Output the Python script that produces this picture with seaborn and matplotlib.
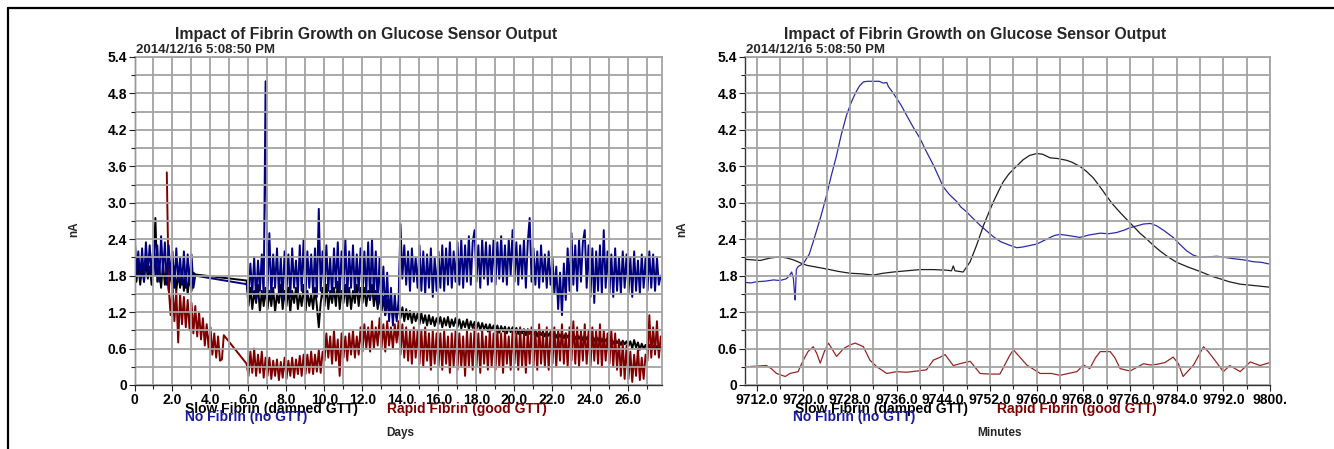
import numpy as np
import pandas as pd
import matplotlib
matplotlib.use("Agg")
import matplotlib.pyplot as plt
from matplotlib.lines import Line2D
from matplotlib.ticker import MultipleLocator, FixedLocator, FixedFormatter
import seaborn as sns

# ---------------- text ----------------
TITLE = "Impact of Fibrin Growth on Glucose Sensor Output"
STAMP = "2014/12/16 5:08:50 PM"
S_NO = "No Fibrin (no GTT)"
S_SLOW = "Slow Fibrin (damped GTT)"
S_RAPID = "Rapid Fibrin (good GTT)"
COLORS = {S_NO: "#000080", S_SLOW: "#000000", S_RAPID: "#800000"}
COLORS_R = {S_NO: "#2b2ba8", S_SLOW: "#1e1e1e", S_RAPID: "#982525"}

# ---------------- left panel: days ----------------
blue_days_a = np.round(np.arange(0.0, 3.25, 0.1), 1)
blue_vals_a = [2.55, 1.80, 2.20, 1.75, 2.25, 1.70, 2.35, 1.85, 2.30, 1.75,
               2.40, 1.80, 2.30, 1.70, 2.45, 1.85, 2.35, 1.65, 2.30, 1.75,
               2.20, 1.60, 2.25, 1.70, 2.10, 1.65, 2.20, 1.60, 2.15, 1.65,
               2.15, 1.60, 1.80]
blue_days_b = np.round(np.arange(5.9, 27.75, 0.1), 1)
blue_vals_b = [1.66,
    1.45, 2.00, 1.50, 2.10, 1.40, 2.05, 1.55, 2.15, 1.45, 5.00,
    1.55, 2.50, 1.45, 2.15, 1.60, 2.25, 1.50, 2.10, 1.40, 2.20,
    1.55, 2.15, 1.45, 2.25, 1.60, 2.05, 1.50, 2.30, 1.55, 2.40,
    1.45, 2.20, 1.60, 2.15, 1.50, 2.25, 1.45, 2.90, 1.55, 2.20,
    1.50, 2.30, 1.55, 2.10, 1.45, 2.25, 1.60, 2.35, 1.50, 2.20,
    1.55, 2.40, 1.45, 2.20, 1.60, 2.30, 1.50, 2.15, 1.55, 2.25,
    1.45, 2.20, 1.50, 2.35, 1.40, 2.40, 1.45, 2.20, 1.30, 2.10,
    1.30, 1.95, 1.15, 1.85, 1.05, 1.60, 0.98, 1.50, 1.05, 1.40,
    2.65, 1.75, 2.30, 1.65, 2.20, 1.55, 2.25, 1.70, 2.10, 1.60,
    2.30, 1.55, 2.20, 1.50, 2.15, 1.60, 2.25, 1.45, 2.10, 1.55,
    2.20, 1.60, 2.30, 1.55, 2.25, 1.65, 2.35, 1.60, 2.20, 1.70,
    2.35, 1.65, 2.40, 1.60, 2.30, 1.70, 2.45, 1.65, 2.35, 2.55,
    1.70, 2.30, 1.60, 2.40, 1.75, 2.35, 1.65, 2.30, 1.70, 2.40,
    1.65, 2.35, 1.75, 2.45, 1.70, 2.30, 1.65, 2.40, 1.80, 2.55,
    1.70, 2.35, 1.65, 2.30, 1.75, 2.40, 1.60, 2.35, 2.75, 1.70,
    2.25, 1.65, 2.20, 1.60, 2.30, 1.70, 2.15, 1.60, 2.20, 1.65,
    2.10, 1.50, 1.95, 1.25, 1.85, 1.15, 2.00, 1.40, 2.25, 1.55,
    2.50, 1.65, 2.30, 1.55, 2.40, 1.70, 2.35, 2.55, 1.60, 2.30,
    1.45, 2.25, 1.35, 2.20, 1.55, 2.30, 1.50, 2.55, 1.60, 2.20,
    1.50, 2.15, 1.45, 2.25, 1.55, 2.10, 1.50, 2.20, 1.60, 2.15,
    1.50, 2.10, 1.45, 2.20, 1.55, 2.05, 1.50, 2.15, 1.60, 2.10,
    1.55, 2.20, 1.60, 2.15, 1.55, 2.10, 1.65, 1.80]

black_days_a = np.round(np.arange(0.0, 3.25, 0.1), 1)
black_vals_a = [2.05, 1.70, 2.00, 1.65, 1.95, 1.70, 2.05, 1.75, 1.95, 1.65,
                2.00, 2.75, 1.70, 1.95, 1.60, 2.00, 1.65, 1.95, 1.55, 1.90,
                1.60, 1.95, 1.55, 1.85, 1.60, 1.90, 1.55, 1.85, 1.50, 1.80,
                1.55, 1.85, 1.82]
black_days_b = np.round(np.arange(5.9, 27.75, 0.1), 1)
black_vals_b = [1.72,
    1.30, 1.60, 1.25, 1.55, 1.35, 1.65, 1.20, 1.55, 1.30, 1.60,
    1.25, 1.55, 1.30, 1.60, 1.20, 1.50, 1.35, 1.65, 1.25, 1.55,
    1.30, 1.60, 1.20, 1.55, 1.35, 1.60, 1.25, 1.50, 1.30, 1.65,
    1.20, 1.55, 1.30, 1.50, 1.25, 1.60, 1.30, 0.95, 1.35, 1.60,
    1.30, 1.65, 1.25, 1.55, 1.35, 1.60, 1.30, 1.70, 1.25, 1.55,
    1.35, 1.65, 1.30, 1.60, 1.25, 1.55, 1.35, 1.65, 1.30, 1.60,
    1.35, 1.60, 1.30, 1.55, 1.40, 1.65, 1.30, 1.55, 1.25, 1.50,
    1.20, 1.45, 1.15, 1.40, 1.15, 1.35, 1.10, 1.30, 1.10, 1.30,
    1.10, 1.28, 1.05, 1.25, 1.08, 1.22, 1.02, 1.20, 1.05, 1.18,
    1.00, 1.18, 1.02, 1.15, 0.98, 1.15, 1.00, 1.12, 0.97, 1.10,
    1.00, 1.12, 0.95, 1.10, 0.98, 1.12, 0.95, 1.08, 0.97, 1.10,
    0.95, 1.08, 0.93, 1.05, 0.95, 1.08, 0.92, 1.05, 0.94, 1.04,
    0.92, 1.03, 0.90, 1.02, 0.92, 1.00, 0.88, 1.00, 0.90, 0.98,
    0.88, 0.98, 0.86, 0.97, 0.88, 0.96, 0.85, 0.95, 0.87, 0.95,
    0.85, 0.94, 0.84, 0.93, 0.85, 0.92, 0.82, 0.92, 0.84, 0.90,
    0.82, 0.90, 0.80, 0.90, 0.82, 0.88, 0.80, 0.88, 0.81, 0.87,
    0.80, 0.87, 0.78, 0.86, 0.79, 0.85, 0.77, 0.85, 0.78, 0.84,
    0.76, 0.84, 0.75, 0.83, 0.76, 0.82, 0.74, 0.82, 0.75, 0.81,
    0.73, 0.80, 0.72, 0.80, 0.73, 0.79, 0.71, 0.78, 0.72, 0.77,
    0.70, 0.76, 0.68, 0.75, 0.69, 0.74, 0.66, 0.73, 0.67, 0.72,
    0.64, 0.72, 0.60, 0.74, 0.62, 0.70, 0.58, 0.68, 0.60, 0.66,
    0.58, 0.66, 0.57, 0.65, 0.59, 0.64, 0.56, 0.62]

red_days_a = np.round(np.arange(1.7, 4.75, 0.1), 1)
red_vals_a = [3.50, 1.60, 1.15, 1.65, 1.05, 1.55, 0.70, 1.50, 1.00, 1.45,
              0.95, 1.40, 0.90, 1.35, 0.85, 1.30, 0.80, 1.20, 0.75, 1.10,
              0.65, 1.00, 0.60, 0.95, 0.50, 0.85, 0.45, 0.80, 0.40, 0.42,
              0.82]
red_days_b = np.round(np.arange(5.9, 27.75, 0.1), 1)
red_vals_b = [0.35,
    0.15, 0.55, 0.20, 0.60, 0.15, 0.50, 0.20, 0.55, 0.12, 0.45,
    0.15, 0.45, 0.10, 0.40, 0.15, 0.42, 0.08, 0.38, 0.12, 0.45,
    0.10, 0.40, 0.15, 0.45, 0.12, 0.42, 0.18, 0.48, 0.15, 0.50,
    0.18, 0.50, 0.20, 0.55, 0.18, 0.50, 0.22, 0.58, 0.20, 0.55,
    0.40, 0.85, 0.45, 0.80, 0.35, 0.90, 0.40, 0.75, 0.15, 0.85,
    0.45, 0.80, 0.40, 0.85, 0.50, 0.90, 0.45, 0.80, 0.50, 0.95,
    0.55, 1.00, 0.60, 0.95, 0.55, 1.05, 0.60, 0.95, 0.65, 1.10,
    0.60, 1.00, 0.55, 1.05, 0.65, 0.95, 0.60, 1.00, 0.70, 1.05,
    0.50, 1.00, 0.45, 0.95, 0.40, 0.90, 0.35, 0.95, 0.45, 0.90,
    0.35, 0.90, 0.30, 0.95, 0.40, 0.85, 0.25, 0.90, 0.35, 0.85,
    0.30, 0.85, 0.25, 0.90, 0.35, 0.80, 0.20, 0.85, 0.30, 0.90,
    0.25, 0.85, 0.30, 0.80, 0.15, 0.90, 0.30, 0.85, 0.25, 0.95,
    0.30, 0.85, 0.20, 0.90, 0.35, 0.80, 0.25, 0.90, 0.30, 0.85,
    0.25, 0.90, 0.30, 0.85, 0.20, 0.90, 0.35, 0.80, 0.25, 0.90,
    0.35, 0.85, 0.25, 0.95, 0.30, 0.85, 0.20, 0.90, 0.35, 0.95,
    0.30, 0.90, 0.25, 1.00, 0.35, 0.85, 0.30, 0.95, 0.25, 0.90,
    0.35, 0.95, 0.30, 0.90, 0.40, 1.00, 0.35, 0.85, 0.30, 0.95,
    0.40, 1.05, 0.35, 0.95, 0.30, 0.90, 0.40, 1.00, 0.35, 0.90,
    0.30, 0.95, 0.40, 0.90, 0.35, 1.00, 0.30, 0.90, 0.40, 0.85,
    0.35, 0.90, 0.30, 0.85, 0.25, 0.75, 0.15, 0.70, 0.10, 0.65,
    0.10, 0.55, 0.05, 0.50, 0.15, 0.60, 0.08, 0.45, 0.10, 0.50,
    0.40, 1.15, 0.45, 0.95, 0.50, 1.05, 0.45, 0.80]

# ---------------- right panel: minutes ----------------
blue_min = [9710, 9711, 9712, 9713.5, 9714.9, 9716, 9717.1, 9717.6, 9718, 9718.3,
            9718.5, 9718.6, 9718.8, 9719.1, 9720, 9721, 9721.7, 9722.3, 9722.9, 9723.5,
            9724, 9724.8, 9725.7, 9726.5, 9727.4, 9728.2, 9728.9, 9729.6, 9730.3, 9731,
            9732, 9733, 9733.7, 9734.3, 9734.6, 9735.3, 9736, 9736.8, 9737.7, 9738.8,
            9740, 9741, 9742.3, 9743.2, 9744, 9745, 9746.3, 9747, 9748, 9749,
            9750.3, 9751.5, 9752.6, 9753.8, 9755.4, 9756.6, 9757.5, 9759, 9760, 9761.7,
            9763, 9764, 9765.5, 9767.4, 9769, 9770.9, 9772.3, 9773.7, 9775, 9776,
            9777.2, 9778.3, 9779.5, 9780.6, 9782, 9783.4, 9784.5, 9785.7, 9786.8, 9788,
            9789.5, 9790.9, 9792.3, 9793.7, 9795.5, 9797.1, 9798.5, 9800]
blue_min_vals = [1.69, 1.68, 1.70, 1.71, 1.73, 1.72, 1.75, 1.80, 1.86, 1.75,
                 1.50, 1.40, 1.90, 1.95, 2.00, 2.15, 2.36, 2.55, 2.74, 2.95,
                 3.13, 3.45, 3.78, 4.12, 4.44, 4.65, 4.80, 4.92, 4.99, 5.00,
                 5.00, 5.00, 4.97, 4.98, 4.91, 4.82, 4.72, 4.60, 4.44, 4.25,
                 4.06, 3.86, 3.62, 3.43, 3.26, 3.14, 3.02, 2.93, 2.85, 2.75,
                 2.63, 2.53, 2.44, 2.36, 2.30, 2.26, 2.27, 2.30, 2.32, 2.40,
                 2.46, 2.48, 2.46, 2.43, 2.47, 2.50, 2.49, 2.51, 2.55, 2.59,
                 2.62, 2.65, 2.66, 2.62, 2.53, 2.43, 2.32, 2.21, 2.14, 2.10,
                 2.11, 2.12, 2.10, 2.08, 2.06, 2.03, 2.02, 1.99]
black_min = [9710, 9711.3, 9712.6, 9714.3, 9716, 9717.2, 9718.3, 9719.5, 9720.6, 9722.3,
             9724, 9726, 9728, 9730, 9732, 9733.7, 9735.4, 9737.7, 9740, 9742.3,
             9744.6, 9745.4, 9745.7, 9746, 9747.4, 9748.6, 9749.7, 9750.9, 9751.8, 9752.6,
             9753.5, 9754.3, 9755.2, 9756, 9757.7, 9758.8, 9760, 9761, 9762.3, 9763.5,
             9765.1, 9766, 9767.4, 9768.5, 9769.7, 9770.8, 9772, 9773, 9774.3, 9775.5,
             9776.6, 9777.7, 9778.9, 9780, 9781.1, 9782.5, 9784, 9786, 9788, 9790,
             9791.4, 9793, 9794.9, 9797, 9800]
black_min_vals = [2.07, 2.06, 2.05, 2.09, 2.11, 2.09, 2.06, 2.01, 1.97, 1.94,
                  1.91, 1.87, 1.84, 1.83, 1.81, 1.84, 1.86, 1.88, 1.90, 1.90,
                  1.89, 1.88, 1.96, 1.88, 1.86, 2.03, 2.30, 2.63, 2.84, 3.02,
                  3.20, 3.35, 3.47, 3.55, 3.71, 3.78, 3.81, 3.80, 3.74, 3.73,
                  3.70, 3.67, 3.60, 3.52, 3.41, 3.27, 3.11, 2.98, 2.84, 2.72,
                  2.61, 2.50, 2.40, 2.30, 2.21, 2.11, 2.02, 1.94, 1.87, 1.79,
                  1.75, 1.70, 1.66, 1.64, 1.61]
red_min = [9710, 9711.8, 9713.7, 9714.5, 9715.4, 9716.9, 9717.7, 9719.1, 9720, 9720.8,
           9721.7, 9722.3, 9722.9, 9723.6, 9724.3, 9725, 9725.7, 9726.9, 9728, 9728.9,
           9730.3, 9731.4, 9732.6, 9734.3, 9736, 9737.7, 9739.5, 9741.1, 9742.3, 9743.3,
           9744.3, 9745.7, 9747.2, 9748.6, 9750.3, 9752, 9753.7, 9755.4, 9756, 9757.2,
           9758.3, 9760.6, 9762.5, 9764, 9766.9, 9768, 9769.1, 9770.1, 9770.9, 9772.6,
           9773.4, 9774.3, 9776, 9778.3, 9779.5, 9780.6, 9782, 9783.4, 9784.3, 9785.1,
           9786.9, 9788.6, 9789.4, 9790.3, 9792, 9793.1, 9794.9, 9796.6, 9798.3, 9800]
red_min_vals = [0.30, 0.31, 0.32, 0.27, 0.19, 0.14, 0.19, 0.22, 0.41, 0.55,
                0.63, 0.52, 0.36, 0.55, 0.69, 0.58, 0.47, 0.60, 0.66, 0.69,
                0.63, 0.41, 0.30, 0.19, 0.22, 0.21, 0.23, 0.25, 0.41, 0.45,
                0.50, 0.32, 0.36, 0.39, 0.19, 0.18, 0.18, 0.49, 0.58, 0.45,
                0.33, 0.19, 0.19, 0.16, 0.22, 0.33, 0.27, 0.45, 0.55, 0.55,
                0.45, 0.27, 0.23, 0.35, 0.33, 0.34, 0.37, 0.46, 0.35, 0.14,
                0.33, 0.63, 0.55, 0.44, 0.22, 0.32, 0.22, 0.38, 0.32, 0.37]

# ---------------- axes tick definitions ----------------
y_ticks = [0, 0.6, 1.2, 1.8, 2.4, 3.0, 3.6, 4.2, 4.8, 5.4]
y_ticklabels = ["0", "0.6", "1.2", "1.8", "2.4", "3.0", "3.6", "4.2", "4.8", "5.4"]
day_ticks = [0, 2, 4, 6, 8, 10, 12, 14, 16, 18, 20, 22, 24, 26]
day_ticklabels = ["0", "2.0", "4.0", "6.0", "8.0", "10.0", "12.0", "14.0", "16.0",
                  "18.0", "20.0", "22.0", "24.0", "26.0"]
min_ticks = [9712, 9720, 9728, 9736, 9744, 9752, 9760, 9768, 9776, 9784, 9792, 9800]
min_ticklabels = ["9712.0", "9720.0", "9728.0", "9736.0", "9744.0", "9752.0", "9760.0",
                  "9768.0", "9776.0", "9784.0", "9792.0", "9800."]


def frame(parts):
    rows = []
    for name, xs, ys in parts:
        rows.append(pd.DataFrame({"x": np.asarray(xs, float), "y": np.asarray(ys, float),
                                  "series": name}))
    return pd.concat(rows, ignore_index=True)


left_df = frame([
    (S_SLOW, np.concatenate([black_days_a, black_days_b]), black_vals_a + black_vals_b),
    (S_RAPID, np.concatenate([red_days_a, red_days_b]), red_vals_a + red_vals_b),
    (S_NO, np.concatenate([blue_days_a, blue_days_b]), blue_vals_a + blue_vals_b),
])
right_df = frame([
    (S_SLOW, black_min, black_min_vals),
    (S_RAPID, red_min, red_min_vals),
    (S_NO, blue_min, blue_min_vals),
])

sns.set_style("white")
plt.rcParams["font.family"] = ["Liberation Sans", "DejaVu Sans"]

W, H = 1334, 449
fig = plt.figure(figsize=(W / 100, H / 100), dpi=100)


def fx(x):
    return x / W


def fy(y):
    return 1 - y / H


GRID = "#a3a3a3"


def make_axes(left_px, right_px, df, palette, xmin, xmax, xticks, xticklabels, xminor,
              xlabel, lw, title_x, legend_x):
    top_px, bot_px = 57, 385
    ax = fig.add_axes([fx(left_px), fy(bot_px), (right_px - left_px) / W,
                       (bot_px - top_px) / H])
    sns.lineplot(data=df, x="x", y="y", hue="series",
                 hue_order=[S_SLOW, S_RAPID, S_NO], palette=palette,
                 estimator=None, sort=False, legend=False, linewidth=lw, ax=ax)
    ax.set_xlim(xmin, xmax)
    ax.set_ylim(0, 5.4)
    ax.yaxis.set_major_locator(FixedLocator(y_ticks))
    ax.yaxis.set_major_formatter(FixedFormatter(y_ticklabels))
    ax.yaxis.set_minor_locator(MultipleLocator(0.3))
    ax.xaxis.set_major_locator(FixedLocator(xticks))
    ax.xaxis.set_major_formatter(FixedFormatter(xticklabels))
    ax.xaxis.set_minor_locator(MultipleLocator(xminor))
    ax.grid(True, which="both", color=GRID, linewidth=1.3)
    ax.set_axisbelow(False)
    ax.tick_params(which="major", direction="out", length=4, width=0.8, pad=1.5,
                   labelsize=10, colors="#222222", left=True, bottom=True)
    ax.tick_params(which="minor", direction="out", length=3, width=0.8,
                   left=True, bottom=True, colors="#222222")
    for lab in ax.get_xticklabels() + ax.get_yticklabels():
        lab.set_fontweight("bold")
        lab.set_color("black")
    for s in ["left", "bottom"]:
        ax.spines[s].set_color("#333333")
        ax.spines[s].set_linewidth(1.0)
    for s in ["top", "right"]:
        ax.spines[s].set_color(GRID)
        ax.spines[s].set_linewidth(1.3)
    ax.set_xlabel(xlabel, fontsize=8.5, fontweight="bold")
    ax.xaxis.set_label_coords((legend_x[3] - left_px) / (right_px - left_px),
                              (bot_px - 427) / (bot_px - top_px))
    ax.set_ylabel("nA", fontsize=8.5, fontweight="bold")
    ax.yaxis.set_label_coords((legend_x[4] - left_px) / (right_px - left_px),
                              (bot_px - 229) / (bot_px - top_px))
    # title and timestamp
    fig.text(fx(title_x), fy(35), TITLE, ha="center", va="center",
             fontsize=11.3, fontweight="bold")
    fig.text(fx(left_px + 1.5), fy(50), STAMP, ha="left", va="center",
             fontsize=9.5, fontweight="bold")
    # series captions under the plot
    fig.text(fx(legend_x[0]), fy(409), S_SLOW, ha="left", va="center",
             fontsize=10, fontweight="bold", color=COLORS[S_SLOW])
    fig.text(fx(legend_x[1]), fy(409), S_RAPID, ha="left", va="center",
             fontsize=10, fontweight="bold", color=COLORS[S_RAPID])
    fig.text(fx(legend_x[2]), fy(416.5), S_NO, ha="left", va="center",
             fontsize=10, fontweight="bold", color="#1a1aa0")
    return ax


axL = make_axes(134.5, 661.7, left_df, COLORS, 0, 27.75, day_ticks, day_ticklabels, 1,
                "Days", 1.4, 366, [185, 387, 185, 400, 80])
axR = make_axes(745, 1270, right_df, COLORS_R, 9710, 9800, min_ticks, min_ticklabels, 4,
                "Minutes", 0.9, 975, [795, 997, 793, 1000, 688])

# page frame lines (top and left)
fig.add_artist(Line2D([fx(8), fx(8)], [fy(8), 0], color="black", linewidth=1.6,
                      transform=fig.transFigure))
fig.add_artist(Line2D([fx(8), 1], [fy(8), fy(8)], color="black", linewidth=1.6,
                      transform=fig.transFigure))

fig.savefig("out.png", dpi=100)
